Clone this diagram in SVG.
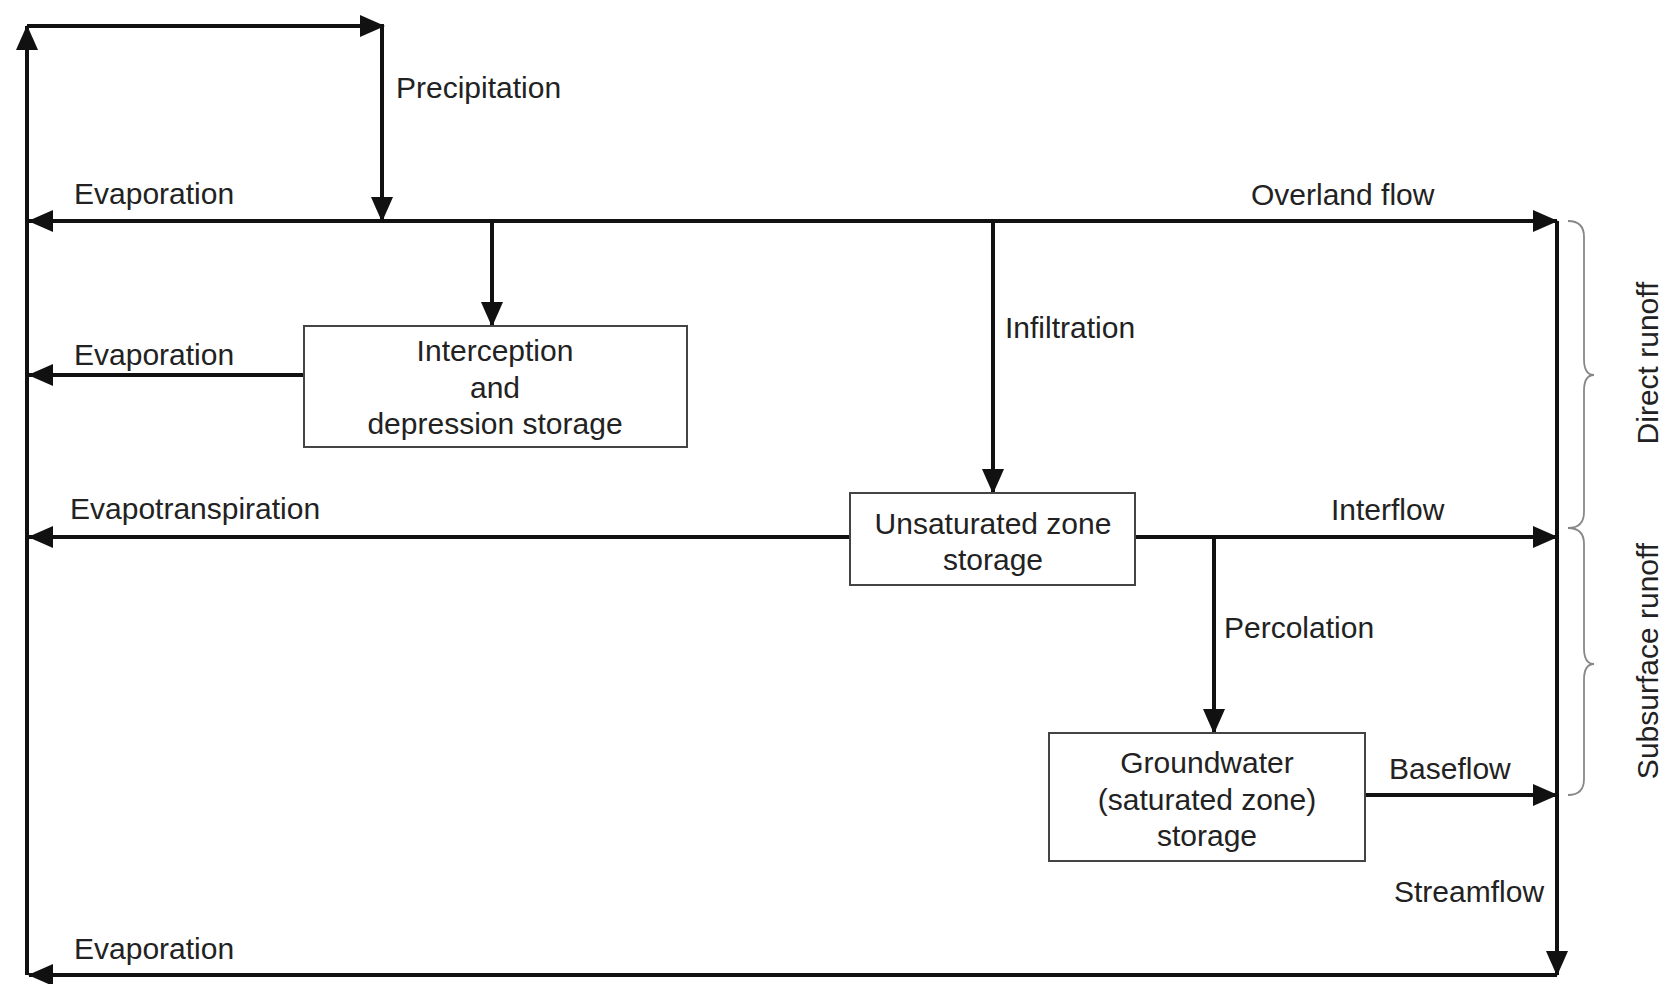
<svg xmlns="http://www.w3.org/2000/svg" width="1665" height="984" viewBox="0 0 1665 984">
<style>
  .t { font-family: "Liberation Sans", Arial, sans-serif; font-size: 30px; fill: #222; }
  .c { text-anchor: middle; }
  .ln { stroke: #111; stroke-width: 4; fill: none; }
  .box { fill: #fff; stroke: #444; stroke-width: 2; }
  .br { stroke: #888; stroke-width: 1.8; fill: none; }
</style>
<defs>
  <marker id="ah" markerUnits="userSpaceOnUse" markerWidth="26" markerHeight="22" refX="24" refY="11" orient="auto-start-reverse">
    <path d="M0,0 L25,11 L0,22 Z" fill="#111"/>
  </marker>
</defs>
<rect width="1665" height="984" fill="#fff"/>
<g id="connectors">
  <path class="ln" d="M27,975 L27,26" marker-end="url(#ah)"/>
  <path class="ln" d="M27,26 L384,26" marker-end="url(#ah)"/>
  <path class="ln" d="M382,26 L382,221" marker-end="url(#ah)"/>
  <path class="ln" d="M29,221 L1557,221" marker-start="url(#ah)" marker-end="url(#ah)"/>
  <path class="ln" d="M492,221 L492,326" marker-end="url(#ah)"/>
  <path class="ln" d="M993,221 L993,493" marker-end="url(#ah)"/>
  <path class="ln" d="M304,375 L29,375" marker-end="url(#ah)"/>
  <path class="ln" d="M850,537 L29,537" marker-end="url(#ah)"/>
  <path class="ln" d="M1135,537 L1557,537" marker-end="url(#ah)"/>
  <path class="ln" d="M1214,537 L1214,733" marker-end="url(#ah)"/>
  <path class="ln" d="M1365,795 L1557,795" marker-end="url(#ah)"/>
  <path class="ln" d="M1557,221 L1557,975" marker-end="url(#ah)"/>
  <path class="ln" d="M1557,975 L29,975" marker-end="url(#ah)"/>
</g>
<g id="labels">
  <text class="t" x="396" y="98">Precipitation</text>
  <text class="t" x="74" y="204">Evaporation</text>
  <text class="t" x="1251" y="205">Overland flow</text>
  <text class="t" x="74" y="365">Evaporation</text>
  <text class="t" x="1005" y="338">Infiltration</text>
  <text class="t" x="70" y="519">Evapotranspiration</text>
  <text class="t" x="1331" y="520">Interflow</text>
  <text class="t" x="1224" y="638">Percolation</text>
  <text class="t" x="1389" y="779">Baseflow</text>
  <text class="t" x="1394" y="902">Streamflow</text>
  <text class="t" x="74" y="959">Evaporation</text>
</g>
<g id="interception">
  <rect class="box" x="304" y="326" width="383" height="121"/>
  <text class="t c" x="495" y="361">Interception</text>
  <text class="t c" x="495" y="398">and</text>
  <text class="t c" x="495" y="434">depression storage</text>
</g>
<g id="unsaturated">
  <rect class="box" x="850" y="493" width="285" height="92"/>
  <text class="t c" x="993" y="534">Unsaturated zone</text>
  <text class="t c" x="993" y="570">storage</text>
</g>
<g id="groundwater">
  <rect class="box" x="1049" y="733" width="316" height="128"/>
  <text class="t c" x="1207" y="773">Groundwater</text>
  <text class="t c" x="1207" y="810">(saturated zone)</text>
  <text class="t c" x="1207" y="846">storage</text>
</g>
<g id="direct-runoff">
  <path class="br" d="M1568,221 Q1584,221 1584,237 L1584,359 Q1584,375 1594,375 Q1584,375 1584,391 L1584,512 Q1584,528 1568,528"/>
  <text class="t c" transform="translate(1658,363) rotate(-90)">Direct runoff</text>
</g>
<g id="subsurface-runoff">
  <path class="br" d="M1568,528 Q1584,528 1584,544 L1584,648 Q1584,664 1594,664 Q1584,664 1584,680 L1584,779 Q1584,795 1568,795"/>
  <text class="t c" transform="translate(1658,661) rotate(-90)">Subsurface runoff</text>
</g>
</svg>
